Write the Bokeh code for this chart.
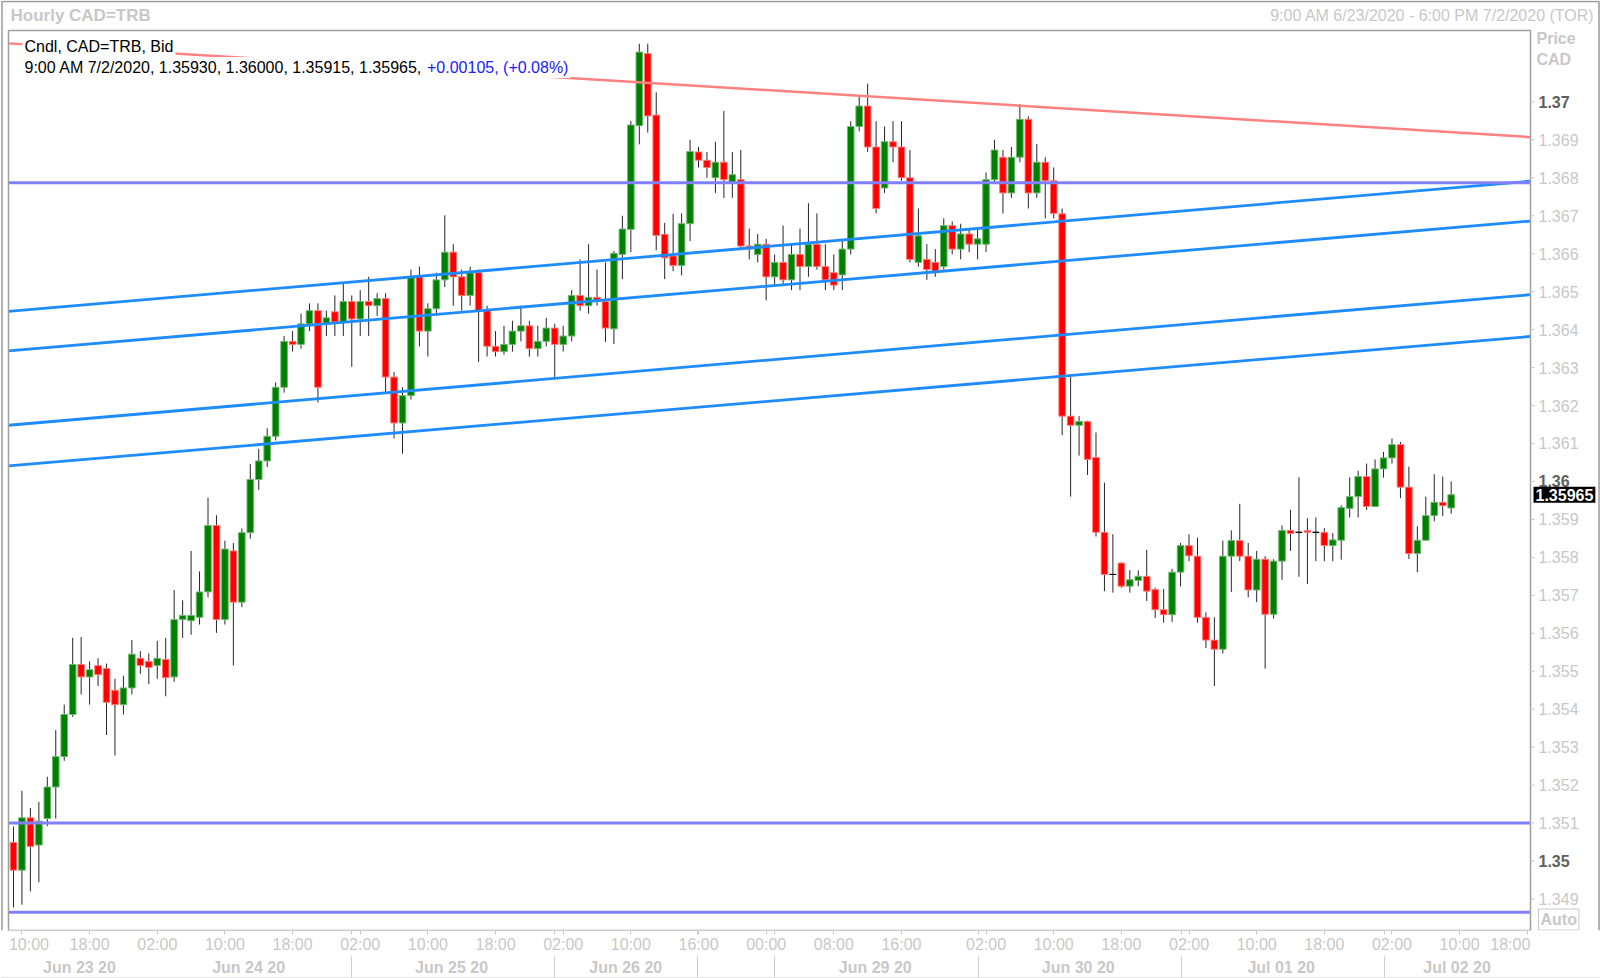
import numpy as np
from bokeh.plotting import figure
from bokeh.models import Range1d, LinearAxis, FixedTicker, Label, ColumnDataSource
from bokeh.core.properties import value
from bokeh.embed import file_html
from bokeh.resources import INLINE

# ---------------- data (hourly bars, bar 0 = 9:00 AM 6/23/2020) ----------------
opens = [1.35049, 1.34976, 1.35114, 1.35042, 1.35112, 1.35195, 1.35275, 1.35386, 1.35518, 1.35485,
         1.35515, 1.35507, 1.35450, 1.35412, 1.35456, 1.35534, 1.35526, 1.35515, 1.35531, 1.35485,
         1.35636, 1.35633, 1.35642, 1.35709, 1.35884, 1.35636, 1.35817, 1.35682, 1.35865, 1.36005,
         1.36054, 1.36119, 1.36248, 1.36369, 1.36361, 1.36415, 1.36450, 1.36415, 1.36447, 1.36420,
         1.36474, 1.36428, 1.36474, 1.36463, 1.36482, 1.36275, 1.36154, 1.36226, 1.36539, 1.36396,
         1.36455, 1.36531, 1.36604, 1.36539, 1.36490, 1.36550, 1.36450, 1.36356, 1.36342, 1.36361,
         1.36396, 1.36410, 1.36350, 1.36369, 1.36404, 1.36361, 1.36383, 1.36490, 1.36463, 1.36485,
         1.36474, 1.36402, 1.36598, 1.36664, 1.36937, 1.37127, 1.36965, 1.36651, 1.36594, 1.36569,
         1.36679, 1.36868, 1.36846, 1.36800, 1.36841, 1.36787, 1.36795, 1.36620, 1.36598, 1.36625,
         1.36539, 1.36577, 1.36531, 1.36598, 1.36566, 1.36625, 1.36566, 1.36550, 1.36544, 1.36612,
         1.36935, 1.36989, 1.36881, 1.36773, 1.36895, 1.36881, 1.36800, 1.36577, 1.36585, 1.36577,
         1.36566, 1.36674, 1.36612, 1.36652, 1.36625, 1.36625, 1.36795, 1.36854, 1.36760, 1.36854,
         1.36954, 1.36760, 1.36841, 1.36792, 1.36705, 1.36172, 1.36148, 1.36158, 1.36063, 1.35866,
         1.35755, 1.35785, 1.35724, 1.35739, 1.35750, 1.35715, 1.35662, 1.35649, 1.35761, 1.35831,
         1.35803, 1.35642, 1.35582, 1.35558, 1.35803, 1.35844, 1.35803, 1.35714, 1.35795, 1.35650,
         1.35790, 1.35871, 1.35866, 1.35870, 1.35866, 1.35866, 1.35831, 1.35845, 1.35929, 1.35960,
         1.36013, 1.35934, 1.36033, 1.36062, 1.36097, 1.35985, 1.35810, 1.35845, 1.35910, 1.35945,
         1.35930]
highs = [1.35091, 1.35185, 1.35140, 1.35156, 1.35222, 1.35345, 1.35412, 1.35588, 1.35590, 1.35526,
         1.35534, 1.35520, 1.35480, 1.35488, 1.35582, 1.35553, 1.35547, 1.35580, 1.35588, 1.35714,
         1.35687, 1.35817, 1.35763, 1.35957, 1.35911, 1.35844, 1.35838, 1.35876, 1.36046, 1.36086,
         1.36140, 1.36261, 1.36383, 1.36396, 1.36442, 1.36469, 1.36469, 1.36450, 1.36490, 1.36523,
         1.36490, 1.36504, 1.36539, 1.36496, 1.36496, 1.36288, 1.36248, 1.36558, 1.36566, 1.36469,
         1.36550, 1.36701, 1.36625, 1.36558, 1.36566, 1.36558, 1.36463, 1.36396, 1.36410, 1.36423,
         1.36463, 1.36423, 1.36410, 1.36431, 1.36415, 1.36410, 1.36504, 1.36585, 1.36625, 1.36558,
         1.36577, 1.36607, 1.36700, 1.36950, 1.37153, 1.37153, 1.37025, 1.36681, 1.36705, 1.36706,
         1.36900, 1.36881, 1.36868, 1.36895, 1.36976, 1.36868, 1.36873, 1.36666, 1.36652, 1.36639,
         1.36598, 1.36674, 1.36625, 1.36666, 1.36733, 1.36706, 1.36625, 1.36598, 1.36639, 1.36949,
         1.37016, 1.37048, 1.36949, 1.36935, 1.36949, 1.36949, 1.36873, 1.36719, 1.36625, 1.36612,
         1.36693, 1.36685, 1.36679, 1.36666, 1.36666, 1.36814, 1.36900, 1.36873, 1.36881, 1.36994,
         1.36962, 1.36889, 1.36854, 1.36827, 1.36719, 1.36283, 1.36172, 1.36160, 1.36129, 1.35997,
         1.35861, 1.35787, 1.35766, 1.35766, 1.35820, 1.35720, 1.35717, 1.35770, 1.35838, 1.35861,
         1.35852, 1.35655, 1.35642, 1.35844, 1.35871, 1.35941, 1.35838, 1.35817, 1.35803, 1.35795,
         1.35884, 1.35925, 1.36011, 1.35903, 1.35905, 1.35877, 1.35864, 1.35937, 1.36011, 1.36028,
         1.36047, 1.36058, 1.36078, 1.36113, 1.36104, 1.36039, 1.35882, 1.35960, 1.36019, 1.36013,
         1.36000]
lows = [1.34878, 1.34885, 1.34920, 1.34944, 1.35092, 1.35112, 1.35264, 1.35380, 1.35439, 1.35412,
        1.35461, 1.35332, 1.35278, 1.35386, 1.35439, 1.35493, 1.35466, 1.35480, 1.35434, 1.35472,
        1.35588, 1.35596, 1.35623, 1.35695, 1.35601, 1.35623, 1.35515, 1.35669, 1.35849, 1.35978,
        1.36038, 1.36108, 1.36234, 1.36342, 1.36350, 1.36396, 1.36208, 1.36383, 1.36383, 1.36383,
        1.36302, 1.36383, 1.36383, 1.36436, 1.36234, 1.36113, 1.36073, 1.36216, 1.36356, 1.36329,
        1.36436, 1.36512, 1.36463, 1.36450, 1.36463, 1.36315, 1.36329, 1.36329, 1.36334, 1.36342,
        1.36369, 1.36329, 1.36329, 1.36356, 1.36275, 1.36342, 1.36369, 1.36450, 1.36442, 1.36463,
        1.36367, 1.36362, 1.36533, 1.36604, 1.36888, 1.36919, 1.36609, 1.36533, 1.36554, 1.36543,
        1.36633, 1.36827, 1.36800, 1.36760, 1.36747, 1.36747, 1.36612, 1.36585, 1.36577, 1.36477,
        1.36517, 1.36517, 1.36504, 1.36504, 1.36539, 1.36558, 1.36504, 1.36504, 1.36504, 1.36598,
        1.36922, 1.36868, 1.36706, 1.36760, 1.36841, 1.36792, 1.36577, 1.36566, 1.36531, 1.36539,
        1.36558, 1.36598, 1.36585, 1.36604, 1.36585, 1.36604, 1.36787, 1.36706, 1.36747, 1.36841,
        1.36719, 1.36747, 1.36693, 1.36693, 1.36122, 1.35960, 1.36068, 1.36017, 1.35855, 1.35711,
        1.35707, 1.35720, 1.35707, 1.35724, 1.35685, 1.35640, 1.35628, 1.35630, 1.35724, 1.35790,
        1.35628, 1.35561, 1.35461, 1.35547, 1.35709, 1.35790, 1.35695, 1.35682, 1.35507, 1.35639,
        1.35741, 1.35817, 1.35749, 1.35730, 1.35790, 1.35790, 1.35790, 1.35794, 1.35905, 1.35905,
        1.35925, 1.35934, 1.36010, 1.36047, 1.35956, 1.35796, 1.35761, 1.35845, 1.35895, 1.35909,
        1.35915]
closes = [1.34976, 1.35114, 1.35038, 1.35105, 1.35195, 1.35275, 1.35386, 1.35518, 1.35485, 1.35504,
          1.35491, 1.35418, 1.35412, 1.35456, 1.35545, 1.35515, 1.35510, 1.35534, 1.35483, 1.35636,
          1.35647, 1.35647, 1.35709, 1.35884, 1.35636, 1.35822, 1.35682, 1.35865, 1.36005, 1.36054,
          1.36119, 1.36248, 1.36369, 1.36361, 1.36415, 1.36450, 1.36248, 1.36431, 1.36420, 1.36474,
          1.36428, 1.36474, 1.36463, 1.36482, 1.36275, 1.36154, 1.36226, 1.36539, 1.36396, 1.36455,
          1.36531, 1.36604, 1.36539, 1.36490, 1.36550, 1.36450, 1.36356, 1.36342, 1.36361, 1.36396,
          1.36410, 1.36350, 1.36369, 1.36404, 1.36361, 1.36383, 1.36490, 1.36463, 1.36485, 1.36474,
          1.36404, 1.36601, 1.36665, 1.36939, 1.37131, 1.36963, 1.36648, 1.36589, 1.36569, 1.36679,
          1.36869, 1.36846, 1.36827, 1.36841, 1.36795, 1.36808, 1.36620, 1.36612, 1.36625, 1.36539,
          1.36577, 1.36531, 1.36598, 1.36566, 1.36625, 1.36566, 1.36531, 1.36517, 1.36612, 1.36935,
          1.36989, 1.36881, 1.36719, 1.36895, 1.36881, 1.36800, 1.36585, 1.36647, 1.36558, 1.36550,
          1.36674, 1.36612, 1.36652, 1.36625, 1.36639, 1.36795, 1.36873, 1.36760, 1.36854, 1.36954,
          1.36760, 1.36841, 1.36792, 1.36706, 1.36172, 1.36148, 1.36158, 1.36058, 1.35866, 1.35755,
          1.35755, 1.35724, 1.35741, 1.35750, 1.35711, 1.35662, 1.35649, 1.35761, 1.35831, 1.35804,
          1.35642, 1.35582, 1.35558, 1.35803, 1.35844, 1.35803, 1.35714, 1.35795, 1.35650, 1.35790,
          1.35871, 1.35863, 1.35866, 1.35866, 1.35866, 1.35831, 1.35846, 1.35931, 1.35960, 1.36013,
          1.35934, 1.36033, 1.36062, 1.36097, 1.35985, 1.35810, 1.35845, 1.35910, 1.35945, 1.35936,
          1.35965]

hour_ticks = [1, 9, 17, 25, 33, 41, 49, 57, 65, 73, 81, 89, 97, 105, 115, 123, 131, 139, 147, 155, 163, 171, 179]
hour_labels = ["10:00", "18:00", "02:00", "10:00", "18:00", "02:00", "10:00", "18:00", "02:00", "10:00",
               "16:00", "00:00", "08:00", "16:00", "02:00", "10:00", "18:00", "02:00", "10:00", "18:00",
               "02:00", "10:00", "18:00"]
day_centers = [7.8, 27.8, 51.8, 72.4, 101.9, 125.9, 149.9, 170.7]
day_labels = ["Jun 23 20", "Jun 24 20", "Jun 25 20", "Jun 26 20", "Jun 29 20", "Jun 30 20", "Jul 01 20", "Jul 02 20"]
day_breaks = [40.0, 64.0, 80.9, 90.0, 114.1, 138.1, 162.1]
price_ticks = [round(1.349 + 0.001 * k, 3) for k in range(22)]
bold_ticks = [1.37, 1.36, 1.35]

line_x = [-0.59, 179.38]
resistance_y = [1.37154, 1.36907]
channel_y = [[1.36448, 1.36791], [1.36344, 1.36686], [1.36148, 1.36492], [1.36041, 1.36382]]
levels = [1.36787, 1.35100, 1.34865]

FONT = "Liberation Sans"
LIGHT = "#c8c8c8"

# chart box (data units): left/right bar index, bottom/top price
X0, X1 = -0.59, 179.38
Y0, Y1 = 1.34817, 1.37188
PX = 1 / 8.457          # one screen pixel in bar units
PY = (Y1 - Y0) / 901    # one screen pixel in price units

# hour labels: first and last are nudged inside the chart, as in the original
label_pos = list(hour_ticks)
label_pos[0] = hour_ticks[0] + 7 * PX
label_pos[-1] = hour_ticks[-1] - 17 * PX

# ---------------- figure ----------------
p = figure(width=1600, height=978, output_backend="svg", toolbar_location=None,
           x_range=Range1d(X0 - 8 * PX, X0 + 1592 * PX), y_range=Range1d(Y0, Y1 + 30 * PY),
           x_axis_location=None, y_axis_location=None,
           min_border_left=0, min_border_right=0, min_border_top=0, min_border_bottom=47,
           background_fill_color="white", border_fill_color="white")
p.outline_line_color = None
p.grid.visible = False

# bottom axis: hours (tick marks as minor ticks, labels as major ticks)
xa = LinearAxis(ticker=FixedTicker(ticks=label_pos, minor_ticks=hour_ticks + day_breaks),
                major_label_overrides={t: s for t, s in zip(label_pos, hour_labels)})
xa.axis_line_color = None
xa.major_tick_line_color = None
xa.minor_tick_line_color = LIGHT
xa.major_tick_out = 4
xa.major_tick_in = 0
xa.minor_tick_out = 4
xa.minor_tick_in = 0
xa.major_label_standoff = 1
xa.major_label_text_font = FONT
xa.major_label_text_font_size = "16px"
xa.major_label_text_color = LIGHT
p.add_layout(xa, "below")

# bottom axis: dates with day separators
xa2 = LinearAxis(ticker=FixedTicker(ticks=day_centers, minor_ticks=day_breaks),
                 major_label_overrides={t: s for t, s in zip(day_centers, day_labels)})
xa2.axis_line_color = None
xa2.major_tick_line_color = None
xa2.major_tick_out = 0
xa2.major_tick_in = 0
xa2.minor_tick_line_color = "#d0d0d0"
xa2.minor_tick_out = 22
xa2.minor_tick_in = 0
xa2.major_label_standoff = -19
xa2.major_label_text_font = FONT
xa2.major_label_text_font_size = "16px"
xa2.major_label_text_font_style = "bold"
xa2.major_label_text_color = LIGHT
p.add_layout(xa2, "below")

# bottom edge of the outer border
xa3 = LinearAxis(ticker=FixedTicker(ticks=[X0]), major_label_overrides={X0: ""})
xa3.axis_line_color = "#9a9a9a"
xa3.axis_line_width = 1.5
xa3.major_tick_line_color = None
xa3.minor_tick_line_color = None
xa3.major_tick_out = 0
xa3.major_tick_in = 0
xa3.minor_tick_out = 0
xa3.minor_tick_in = 0
xa3.major_label_standoff = 0
xa3.major_label_text_font_size = "1px"
p.add_layout(xa3, "below")

# ---------------- candles ----------------
o = np.array(opens); h = np.array(highs); l = np.array(lows); c = np.array(closes)
x = np.arange(len(c))
fill = np.where(c > o, "#008000", np.where(c < o, "#ff0000", "#000000"))
edge = np.where(c > o, "#6fb86f", np.where(c < o, "#ff7a7a", "#000000"))
src = ColumnDataSource(dict(x=x, o=o, h=h, l=l, c=c, top=np.maximum(o, c), bot=np.minimum(o, c),
                            fill=fill, edge=edge))
p.segment(x0="x", y0="l", x1="x", y1="h", source=src, line_color="#262626", line_width=1)
p.vbar(x="x", width=0.78, top="top", bottom="bot", fill_color="fill", line_color="edge",
       line_width=1, source=src)

# ---------------- drawn lines ----------------
p.line(line_x, resistance_y, line_color="#ff8080", line_width=2.5)
p.multi_line([line_x] * len(channel_y), channel_y, line_color="#1e8cff", line_width=2.8)
p.segment(x0=[X0] * len(levels), y0=levels, x1=[X1] * len(levels), y1=levels,
          line_color="#8080ff", line_width=3)

# chart box and outer border
p.quad(left=[X0], right=[X1], bottom=[Y0], top=[Y1], fill_color=None, line_color="#a0a0a0", line_width=1.5)
p.line([X0 - 6.5 * PX, X0 - 6.5 * PX, X0 + 1590.5 * PX, X0 + 1590.5 * PX],
       [Y0, Y1 + 29 * PY, Y1 + 29 * PY, Y0], line_color="#9a9a9a", line_width=1.5)

# ---------------- right price scale ----------------
p.segment(x0=[X1] * len(price_ticks), y0=price_ticks, x1=[X1 + 4 * PX] * len(price_ticks), y1=price_ticks,
          line_color=LIGHT, line_width=1)
light_ticks = [t for t in price_ticks if t not in bold_ticks]
p.text(x=[X1 + 8 * PX] * len(light_ticks), y=light_ticks, text=[f"{t:g}" for t in light_ticks],
       text_font=value(FONT), text_font_size="16px", text_color=LIGHT, text_baseline="middle")
p.text(x=[X1 + 8 * PX] * len(bold_ticks), y=bold_ticks, text=[f"{t:g}" for t in bold_ticks],
       text_font=value(FONT), text_font_size="16px", text_font_style="bold", text_color="#606060",
       text_baseline="middle")

# ---------------- texts ----------------
def lab(**kw):
    base = dict(text_font=FONT, text_font_size="16px", text_baseline="middle")
    base.update(kw)
    p.add_layout(Label(**base))

lab(x=X0 + 2 * PX, y=Y1 + 15 * PY, text="Hourly CAD=TRB", text_font_style="bold", text_font_size="17px", text_color=LIGHT)
lab(x=X0 + 1586 * PX, y=Y1 + 15 * PY, text="9:00 AM 6/23/2020 - 6:00 PM 7/2/2020 (TOR)", text_align="right", text_color=LIGHT)
lab(x=X1 + 6 * PX, y=Y1 - 8 * PY, text="Price", text_font_style="bold", text_color=LIGHT)
lab(x=X1 + 6 * PX, y=Y1 - 29 * PY, text="CAD", text_font_style="bold", text_color=LIGHT)

lab(x=X0 + 14 * PX, y=Y1 - 16 * PY, text="Cndl, CAD=TRB, Bid", text_color="black",
    background_fill_color="white", padding=2)
lab(x=X0 + 14 * PX, y=Y1 - 37 * PY,
    text=f"9:00 AM 7/2/2020, {opens[-1]:.5f}, {highs[-1]:.5f}, {lows[-1]:.5f}, {closes[-1]:.5f}, ",
    text_color="black", background_fill_color="white", padding=2)
lab(x=X0 + 416.5 * PX, y=Y1 - 37 * PY, text="+0.00105, (+0.08%)", text_color="#2020ff",
    background_fill_color="white", padding=2)

# last price tag
lab(x=X1 + 3 * PX, y=closes[-1], text=f"{closes[-1]:.5f}", text_font_style="bold", text_color="white",
    background_fill_color="black", padding=2)

lab(x=X1 + 8 * PX, y=Y0 + 11 * PY, text="Auto", text_font_style="bold", text_color=LIGHT,
    border_line_color=LIGHT, background_fill_color="white", padding=2)

open("out.html", "w").write(file_html(p, INLINE))
